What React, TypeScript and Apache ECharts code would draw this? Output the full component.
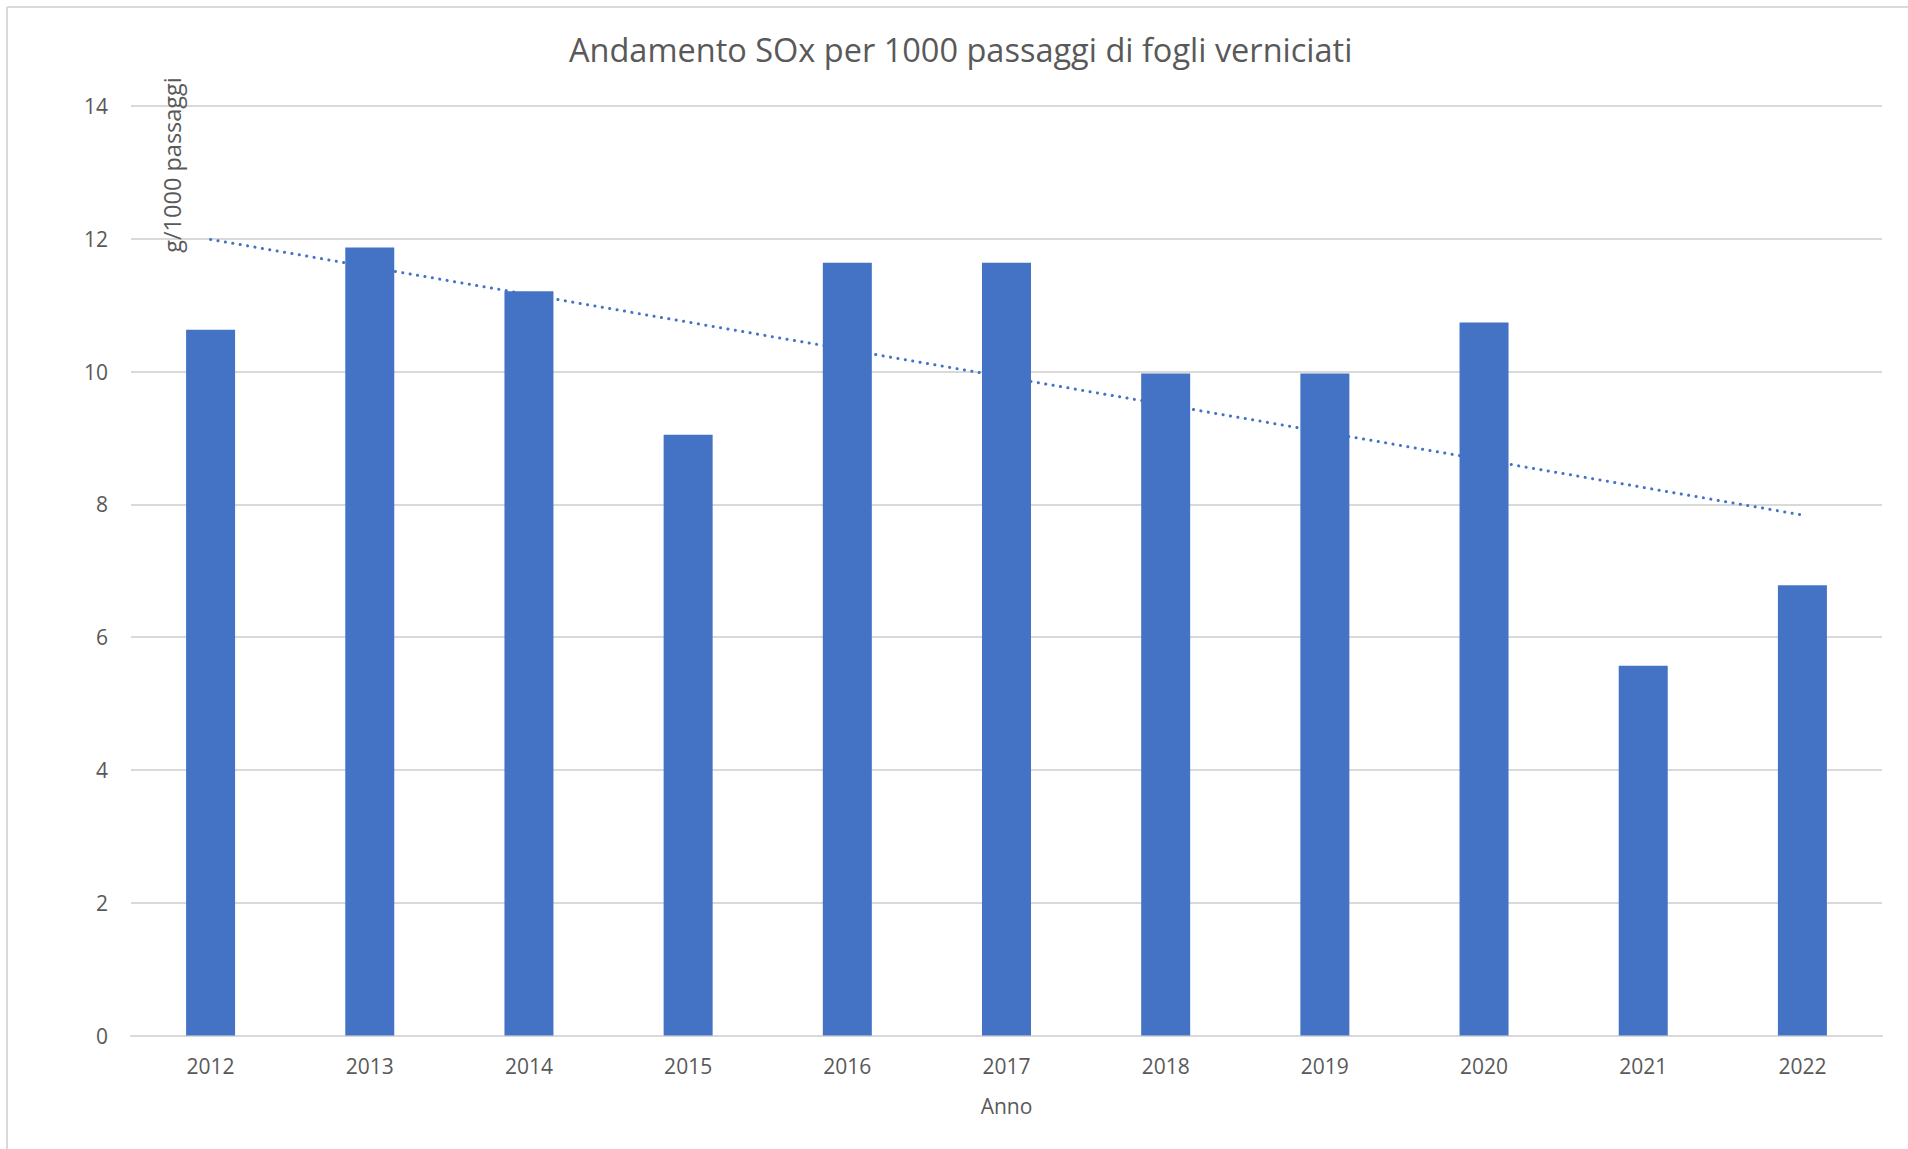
import React, { useEffect, useRef } from "react";
import * as echarts from "echarts";

const categories = ["2012", "2013", "2014", "2015", "2016", "2017", "2018", "2019", "2020", "2021", "2022"];
const values = [10.63, 11.87, 11.21, 9.05, 11.64, 11.64, 9.97, 9.97, 10.74, 5.57, 6.78];
// linear trendline endpoints (2012 and 2022)
const trendStart = 11.99;
const trendEnd = 7.84;
const yTicks = { min: 0, max: 14, interval: 2 };

const titleText = "Andamento SOx per 1000 passaggi di fogli verniciati";
const xName = "Anno";
const yName = "g/1000 passaggi";

const FONT = "'Open Sans', sans-serif";
const TEXT = "#595959";
const GRID = "#d9d9d9";
const BLUE = "#4472C4";

export default function App() {
  const ref = useRef<HTMLDivElement>(null);
  useEffect(() => {
    document.body.style.margin = "0";
    document.body.style.overflow = "hidden";
    const chart = echarts.init(ref.current!, null, { renderer: "svg" });
    const trendData = categories.map((_, i) =>
      i === 0 ? trendStart : i === categories.length - 1 ? trendEnd : null
    );
    chart.setOption({
      animation: false,
      backgroundColor: "#ffffff",
      textStyle: { fontFamily: FONT },
      title: {
        text: titleText,
        left: 569,
        top: 33,
        padding: 0,
        textStyle: { fontFamily: FONT, fontSize: 32.5, fontWeight: "normal", color: TEXT },
      },
      grid: { left: 131, right: 26, top: 106, bottom: 113.5, containLabel: false },
      xAxis: {
        type: "category",
        data: categories,
        name: xName,
        nameLocation: "middle",
        nameGap: 60,
        nameTextStyle: { fontFamily: FONT, fontSize: 21, color: TEXT },
        axisLine: { show: true, lineStyle: { color: GRID, width: 2 } },
        axisTick: { show: false },
        axisLabel: { fontFamily: FONT, fontSize: 21, color: TEXT, margin: 20 },
      },
      yAxis: {
        type: "value",
        min: yTicks.min,
        max: yTicks.max,
        interval: yTicks.interval,
        axisLine: { show: false },
        axisTick: { show: false },
        axisLabel: { fontFamily: FONT, fontSize: 21, color: TEXT, margin: 23 },
        splitLine: { show: true, lineStyle: { color: GRID, width: 2 } },
      },
      graphic: [
        { type: "line", shape: { x1: 7, y1: 7, x2: 1908, y2: 7 }, style: { stroke: GRID, lineWidth: 2 } },
        { type: "line", shape: { x1: 7, y1: 7, x2: 7, y2: 1149 }, style: { stroke: GRID, lineWidth: 2 } },
        {
          type: "text",
          x: 172,
          y: 165,
          rotation: Math.PI / 2,
          z: 100,
          style: {
            text: yName,
            fontFamily: FONT,
            fontSize: 23.5,
            fill: TEXT,
            align: "center",
            verticalAlign: "middle",
          },
        },
      ],
      series: [
        {
          type: "bar",
          data: values,
          barWidth: 49,
          itemStyle: { color: BLUE },
          z: 2,
        },
        {
          type: "line",
          data: trendData,
          connectNulls: true,
          symbol: "none",
          lineStyle: { color: BLUE, width: 3, type: [0.1, 7.4], cap: "round" },
          z: 3,
        },
      ],
    });
    return () => chart.dispose();
  }, []);
  return <div ref={ref} style={{ width: 1908, height: 1149 }} />;
}
